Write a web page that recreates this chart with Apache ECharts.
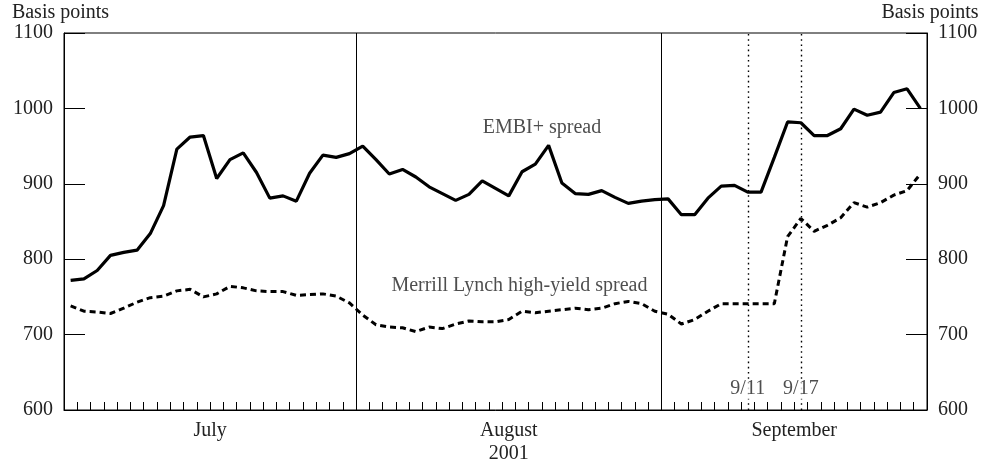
<!DOCTYPE html>
<html>
<head>
<meta charset="utf-8">
<script src="https://cdn.jsdelivr.net/npm/echarts@6/dist/echarts.min.js"></script>
<style>
  html, body { margin: 0; padding: 0; background: #fff; }
  #chart { width: 985px; height: 465px; }
</style>
</head>
<body>
<div id="chart"></div>
<script>
// ---- data ----
var months = ['July', 'August', 'September'];
var businessDaysPerMonth = [22, 23, 20];
var yearLabel = '2001';
var yTicks = [600, 700, 800, 900, 1000, 1100];

var embiJuly = [772, 774, 785, 805, 809, 812, 834, 871, 946, 962, 964, 907, 932, 941, 915, 881, 884, 877, 914, 938, 935, 940];
var embiAug  = [950, 932, 913, 919, 909, 896, 887, 878, 886, 904, 894, 884, 916, 926, 951, 901, 887, 886, 891, 882, 874, 877, 879];
var embiSep  = [880, 859, 859, 881, 897, 898, 889, 889, 935, 982, 981, 964, 964, 973, 999, 991, 995, 1021, 1026, 1000];

var hyJuly = [738, 731, 730, 728, 735, 743, 749, 751, 758, 760, 750, 754, 764, 762, 758, 757, 757, 752, 753, 754, 751, 742];
var hyAug  = [726, 713, 710, 709, 704, 710, 708, 714, 718, 717, 717, 720, 731, 729, 731, 733, 735, 733, 735, 741, 744, 741, 731];
var hySep  = [727, 714, 720, 731, 741, 741, 741, 741, 741, 830, 854, 837, 845, 855, 875, 869, 875, 885, 891, 913];

var eventLabels = ['9/11', '9/17'];
var eventSeptDayIndex = [6, 10]; // business-day index within September

var seriesNames = ['EMBI+ spread', 'Merrill Lynch high-yield spread'];

// ---- derived ----
var embi = embiJuly.concat(embiAug, embiSep);
var hy = hyJuly.concat(hyAug, hySep);
var nDays = embi.length;
var monthStarts = [];
var acc = 0;
businessDaysPerMonth.forEach(function (n) { monthStarts.push(acc); acc += n; });
var monthCenters = businessDaysPerMonth.map(function (n, i) { return monthStarts[i] + n / 2; });
var monthBounds = monthStarts.slice(1);
function toPts(arr) { return arr.map(function (v, i) { return [i + 0.5, v]; }); }
var sepStart = monthStarts[2];
var eventX = eventSeptDayIndex.map(function (d) { return sepStart + d + 0.5; });

var FONT = 'Liberation Serif';
var TXT = '#222';

var chart = echarts.init(document.getElementById('chart'), null, { renderer: 'canvas' });

function yAxisDef(pos, pad) {
  return {
    type: 'value', min: yTicks[0], max: yTicks[yTicks.length - 1], interval: 100, position: pos,
    axisLine: { show: true, onZero: false, lineStyle: { color: '#000', width: 1 } },
    axisTick: { show: true, inside: false, length: -21, lineStyle: { color: '#000', width: 1 } },
    splitLine: { show: false },
    axisLabel: { fontFamily: FONT, fontSize: 20, color: TXT, margin: 11,
      formatter: function (v) { return String(v); } },
    name: 'Basis points', nameLocation: 'end', nameGap: 8,
    nameTextStyle: { fontFamily: FONT, fontSize: 20, color: TXT, padding: pad }
  };
}

var option = {
  animation: false,
  backgroundColor: '#fff',
  grid: { left: 64, right: 58, top: 33, bottom: 52, show: true, borderColor: '#000', borderWidth: 1, containLabel: false },
  xAxis: {
    type: 'value', min: 0, max: nDays, interval: 1,
    axisLine: { show: true, onZero: false, lineStyle: { color: '#000', width: 1 } },
    axisTick: { show: true, inside: true, length: 8, lineStyle: { color: '#000', width: 1 } },
    splitLine: { show: false },
    axisLabel: {
      customValues: monthCenters,
      fontFamily: FONT, fontSize: 20, color: TXT, margin: 9, lineHeight: 23,
      formatter: function (v) {
        for (var i = 0; i < monthCenters.length; i++) {
          if (Math.abs(v - monthCenters[i]) < 1e-6) {
            return i === 1 ? months[i] + '\n' + yearLabel : months[i];
          }
        }
        return '';
      }
    }
  },
  yAxis: [
    yAxisDef('left', [0, 7, 0, 0]),
    yAxisDef('right', [0, 0, 0, 6])
  ],
  series: [
    {
      name: seriesNames[1], type: 'line', data: toPts(hy), showSymbol: false, symbol: 'none',
      lineStyle: { color: '#000', width: 3, type: [6, 4] }, z: 3,
      markLine: {
        silent: true, symbol: 'none', animation: false,
        label: { show: false },
        data: eventX.map(function (x) { return { xAxis: x }; }),
        lineStyle: { color: '#000', width: 1.4, type: [1.6, 3.6] }
      }
    },
    {
      name: seriesNames[0], type: 'line', data: toPts(embi), showSymbol: false, symbol: 'none',
      lineStyle: { color: '#000', width: 3.2 }, z: 4,
      markLine: {
        silent: true, symbol: 'none', animation: false,
        label: { show: false },
        data: monthBounds.map(function (x) { return { xAxis: x }; }),
        lineStyle: { color: '#000', width: 1, type: 'solid' }
      }
    },
    {
      type: 'scatter', symbolSize: 1, itemStyle: { color: 'rgba(0,0,0,0)' }, z: 10, silent: true,
      data: eventX.map(function (x, i) { return { value: [x, 628], name: eventLabels[i] }; }),
      label: {
        show: true, position: 'inside', formatter: '{b}', fontFamily: FONT, fontSize: 20, color: TXT,
        backgroundColor: '#fff', padding: [0, 1]
      }
    },
    {
      type: 'scatter', symbolSize: 1, itemStyle: { color: 'rgba(0,0,0,0)' }, z: 10, silent: true,
      data: [
        { value: [36.0, 975], name: seriesNames[0] },
        { value: [34.3, 765], name: seriesNames[1] }
      ],
      label: { show: true, position: 'inside', formatter: '{b}', fontFamily: FONT, fontSize: 20, color: TXT }
    }
  ]
};
chart.setOption(option);
</script>
</body>
</html>
